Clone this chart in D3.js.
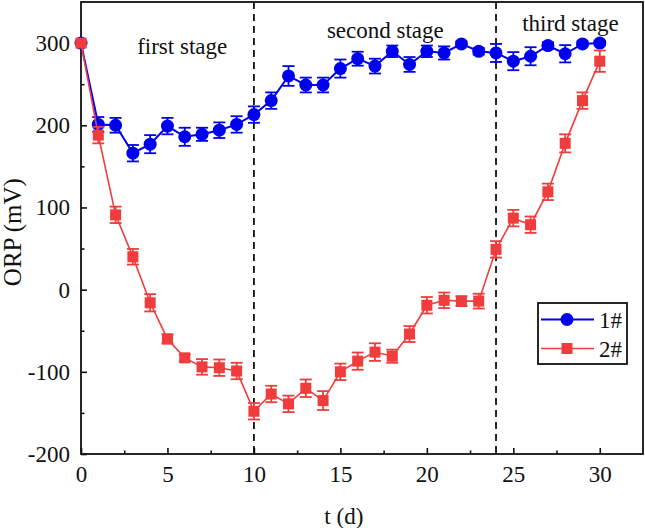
<!DOCTYPE html>
<html>
<head>
<meta charset="utf-8">
<script src="https://cdn.jsdelivr.net/npm/d3@7"></script>
<style>
  html, body { margin: 0; padding: 0; background: #fff; }
  svg { display: block; }
  svg text { font-family: "Liberation Serif", "Times New Roman", serif !important; fill: #111; }
</style>
</head>
<body>
<svg id="chart" width="645" height="528"></svg>
<script>
const days = d3.range(0, 31);
const series1 = [300, 201, 200, 166, 177, 199, 186, 189, 194, 201, 213, 230, 260, 249, 249, 269, 281, 272, 290, 274, 290, 288, 299, 290, 288, 278, 284, 297, 287, 299, 300];
const err1 =    [2, 9, 9, 10, 11, 10, 11, 8, 9.5, 10, 10, 10, 12, 9, 9, 11, 8.5, 9, 7, 9, 7, 8, 3, 4, 11, 11, 11, 4, 10.5, 3, 3];
const series2 = [300, 188, 91, 40, -16, -60, -83, -94, -95, -99, -148, -127, -139, -120, -135, -100, -87, -76, -81, -54, -19, -13, -14, -14, 49, 87, 79, 119, 178, 230, 278];
const err2 =    [2, 10, 10, 9.5, 10.5, 5.5, 4, 9.5, 10, 10, 10, 10, 10, 10.7, 11.5, 10, 10.5, 10.7, 8, 9.7, 10, 9.5, 6, 9, 10, 10, 10, 10, 11, 10, 13];
const seriesNames = ["1#", "2#"];
const stageLabels = ["first stage", "second stage", "third stage"];
const stageLabelX = [5.85, 17.6, 28.3];
const stageLabelY = [287, 306, 315];
const stageBoundaries = [10, 24];
const xTicks = [0, 5, 10, 15, 20, 25, 30];
const yTicks = [-200, -100, 0, 100, 200, 300];

const blue = "#0000f0";
const red = "#f03c3c";
const FONT = '"Liberation Serif", "Times New Roman", serif';

const svg = d3.select("#chart");
const m = { left: 81, right: 2, top: 2, bottom: 74 };
const W = 645, H = 528;
const x = d3.scaleLinear().domain([0, 32.5]).range([m.left, W - m.right]);
const y = d3.scaleLinear().domain([-200, 350]).range([H - m.bottom, m.top]);

const fs = "23px";
const xAxis = d3.axisBottom(x).tickValues(xTicks).tickSizeInner(-6).tickSizeOuter(0).tickPadding(12).tickFormat(d => String(d));
const xMinor = d3.axisBottom(x).tickValues(d3.range(2.5, 32.5, 5)).tickSizeInner(-3.5).tickSizeOuter(0).tickFormat("");
const yAxis = d3.axisLeft(y).tickValues(yTicks).tickSizeInner(-6).tickSizeOuter(0).tickPadding(11).tickFormat(d => String(d));
const yMinor = d3.axisLeft(y).tickValues(d3.range(-150, 350, 100)).tickSizeInner(-3.5).tickSizeOuter(0).tickFormat("");

function styleAxis(g) {
  g.attr("font-family", FONT).attr("font-size", 23);
  g.select(".domain").remove();
  g.selectAll("line").attr("stroke", "#111").attr("stroke-width", 1.6);
  g.selectAll("text").attr("font-family", FONT).attr("font-size", 23).attr("fill", "#111");
}
svg.append("g").attr("transform", `translate(0,${y(-200)})`).call(xAxis).call(styleAxis);
svg.append("g").attr("transform", `translate(0,${y(-200)})`).call(xMinor).call(styleAxis);
svg.append("g").attr("transform", `translate(${x(0)},0)`).call(yAxis).call(styleAxis);
svg.append("g").attr("transform", `translate(${x(0)},0)`).call(yMinor).call(styleAxis);

// Frame
svg.append("rect").attr("x", x(0)).attr("y", y(350)).attr("width", x(32.5) - x(0)).attr("height", y(-200) - y(350))
  .attr("fill", "none").attr("stroke", "#111").attr("stroke-width", 1.8);

// Stage boundaries
svg.selectAll(".stage").data(stageBoundaries).enter().append("line")
  .attr("x1", d => x(d)).attr("x2", d => x(d)).attr("y1", y(350)).attr("y2", y(-200))
  .attr("stroke", "#111").attr("stroke-width", 1.8).attr("stroke-dasharray", "7,5");

// Stage labels
svg.selectAll(".stageLabel").data(stageLabels).enter().append("text")
  .attr("x", (d, i) => x(stageLabelX[i])).attr("y", (d, i) => y(stageLabelY[i]))
  .attr("text-anchor", "middle").attr("font-size", 23).text(d => d);

// Axis titles
svg.append("text").attr("x", x(15.2)).attr("y", 524).attr("text-anchor", "middle").attr("font-size", 23).text("t (d)");
svg.append("text").attr("transform", `translate(21,${y(70)}) rotate(-90)`).attr("text-anchor", "middle").attr("font-size", 25).text("ORP (mV)");

const line = d3.line().x((d, i) => x(days[i])).y(d => y(d));

function drawSeries(vals, errs, color, shape, lw) {
  const g = svg.append("g");
  g.append("path").datum(vals).attr("d", line).attr("fill", "none").attr("stroke", color).attr("stroke-width", lw);
  const eb = g.selectAll(".eb").data(vals).enter().append("g");
  eb.append("line").attr("x1", (d, i) => x(days[i])).attr("x2", (d, i) => x(days[i]))
    .attr("y1", (d, i) => y(d - errs[i])).attr("y2", (d, i) => y(d + errs[i])).attr("stroke", color).attr("stroke-width", 1.8);
  [1, -1].forEach(s => {
    eb.append("line").attr("x1", (d, i) => x(days[i]) - 6).attr("x2", (d, i) => x(days[i]) + 6)
      .attr("y1", (d, i) => y(d + s * errs[i])).attr("y2", (d, i) => y(d + s * errs[i])).attr("stroke", color).attr("stroke-width", 1.8);
  });
  if (shape === "circle") {
    g.selectAll(".mk").data(vals).enter().append("circle")
      .attr("cx", (d, i) => x(days[i])).attr("cy", d => y(d)).attr("r", 6.5).attr("fill", color);
  } else {
    g.selectAll(".mk").data(vals).enter().append("rect")
      .attr("x", (d, i) => x(days[i]) - 5.5).attr("y", d => y(d) - 5.5).attr("width", 11).attr("height", 11).attr("fill", color);
  }
}
drawSeries(series1, err1, blue, "circle", 2);
drawSeries(series2, err2, red, "square", 1.6);

// Legend
const lg = svg.append("g");
lg.append("rect").attr("x", 538).attr("y", 303).attr("width", 89).attr("height", 61)
  .attr("fill", "#fff").attr("stroke", "#111").attr("stroke-width", 1.8);
const legendItems = [
  { name: seriesNames[0], color: blue, shape: "circle", lw: 2 },
  { name: seriesNames[1], color: red, shape: "square", lw: 1.6 }
];
legendItems.forEach((it, i) => {
  const ly = 319.5 + i * 29;
  lg.append("line").attr("x1", 541).attr("x2", 594).attr("y1", ly).attr("y2", ly).attr("stroke", it.color).attr("stroke-width", it.lw);
  if (it.shape === "circle") lg.append("circle").attr("cx", 567).attr("cy", ly).attr("r", 6.5).attr("fill", it.color);
  else lg.append("rect").attr("x", 561.5).attr("y", ly - 5.5).attr("width", 11).attr("height", 11).attr("fill", it.color);
  lg.append("text").attr("x", 599).attr("y", ly + 8).attr("font-size", 23).text(it.name);
});
</script>
</body>
</html>
